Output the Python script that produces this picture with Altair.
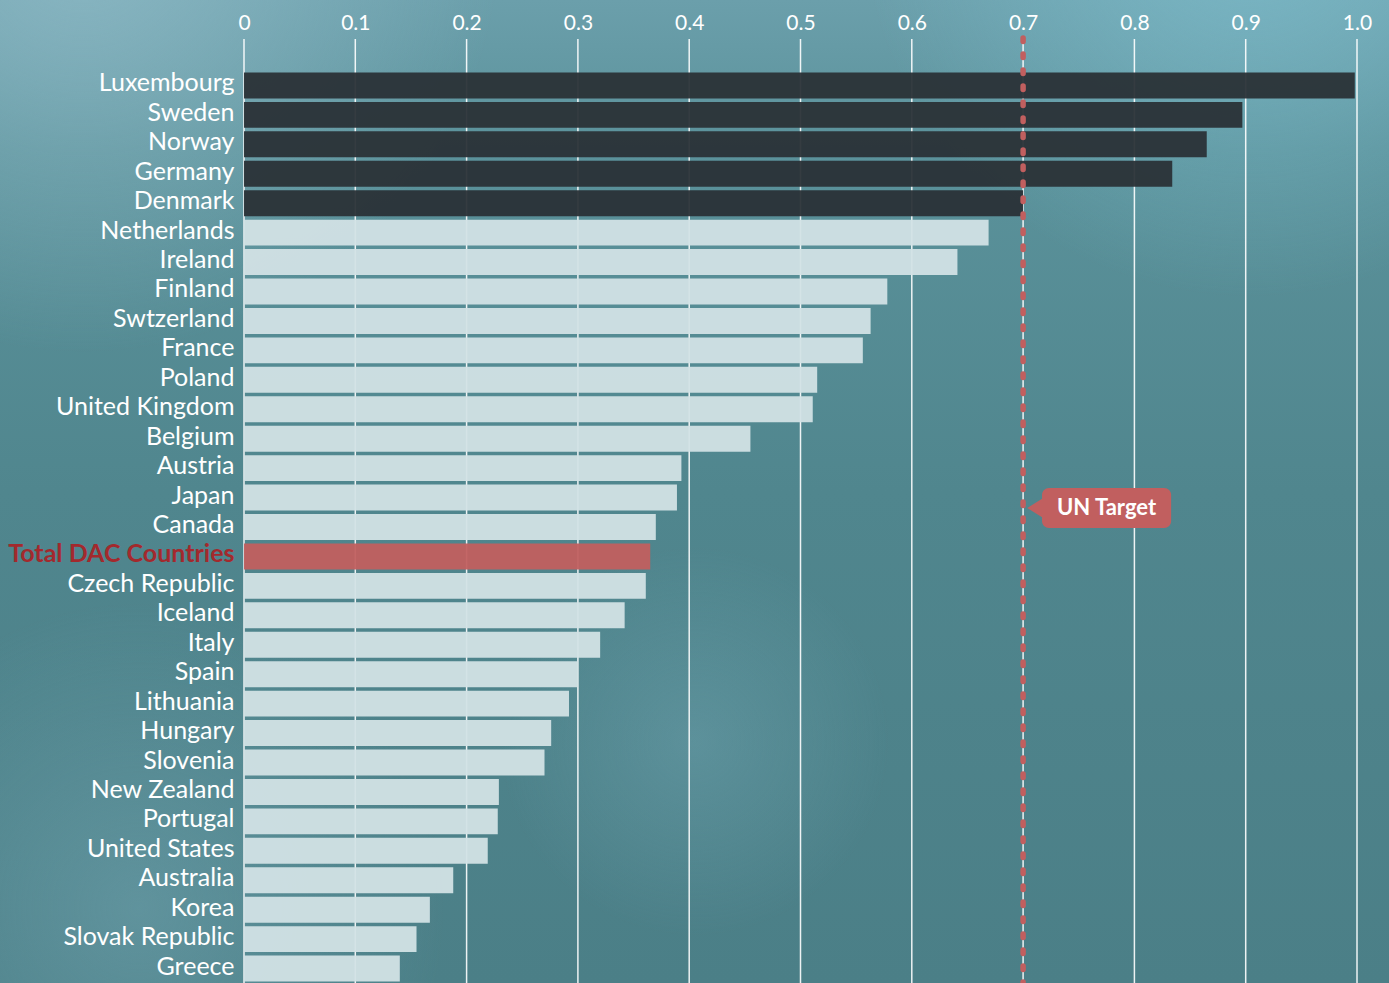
import altair as alt
import pandas as pd

# Net ODA as a share of GNI, by donor
countries = [
    "Luxembourg", "Sweden", "Norway", "Germany", "Denmark", "Netherlands",
    "Ireland", "Finland", "Swtzerland", "France", "Poland", "United Kingdom",
    "Belgium", "Austria", "Japan", "Canada", "Total DAC Countries",
    "Czech Republic", "Iceland", "Italy", "Spain", "Lithuania", "Hungary",
    "Slovenia", "New Zealand", "Portugal", "United States", "Australia",
    "Korea", "Slovak Republic", "Greece",
]
values = [
    0.998, 0.897, 0.865, 0.834, 0.70, 0.669,
    0.641, 0.578, 0.563, 0.556, 0.515, 0.511,
    0.455, 0.393, 0.389, 0.370, 0.365,
    0.361, 0.342, 0.320, 0.300, 0.292, 0.276,
    0.270, 0.229, 0.228, 0.219, 0.188,
    0.167, 0.155, 0.140,
]
un_target = 0.7
tick_values = [0, 0.1, 0.2, 0.3, 0.4, 0.5, 0.6, 0.7, 0.8, 0.9, 1.0]

TOTAL = "Total DAC Countries"
groups = [
    "total" if c == TOTAL else ("met" if v >= un_target else "below")
    for c, v in zip(countries, values)
]
df = pd.DataFrame({"country": countries, "oda": values, "group": groups})

W, H = 1113, 912
PAD = {"left": 244, "top": 71, "right": 32, "bottom": 0}
FONT = "Lato"
RED = "#c15f5f"
GRID_TOP = -32  # grid lines rise above the first bar, up to the tick labels

# soft, cloudy teal backdrop over the full canvas
bg_data = pd.DataFrame({"k": [0]})
canvas = dict(
    x=alt.value(-PAD["left"]), x2=alt.value(W + PAD["right"]),
    y=alt.value(-PAD["top"]), y2=alt.value(H + PAD["bottom"]),
)


def glow(cx, cy, r, rgb, alpha):
    return alt.Chart(bg_data).mark_rect(
        color=alt.RadialGradient(
            gradient="radial", x1=cx, y1=cy, r1=0, x2=cx, y2=cy, r2=r,
            stops=[
                alt.GradientStop(offset=0, color=f"rgba({rgb},{alpha})"),
                alt.GradientStop(offset=1, color=f"rgba({rgb},0)"),
            ],
        )
    ).encode(**canvas)


backdrop = alt.Chart(bg_data).mark_rect(
    color=alt.LinearGradient(
        gradient="linear", x1=0, y1=0, x2=0, y2=1,
        stops=[
            alt.GradientStop(offset=0, color="#6b9fab"),
            alt.GradientStop(offset=0.15, color="#5b929b"),
            alt.GradientStop(offset=0.5, color="#50868e"),
            alt.GradientStop(offset=1, color="#4b7f87"),
        ],
    )
).encode(**canvas)

glows = [
    glow(0.9, 0.08, 0.28, "128,192,207", 0.75),
    glow(0.06, 0.1, 0.3, "145,188,200", 0.8),
    glow(0.1, 0.8, 0.22, "120,170,182", 0.45),
    glow(0.5, 0.68, 0.14, "120,172,185", 0.35),
]

x_scale = alt.Scale(domain=[0, 1], nice=False)
y_scale = alt.Scale(domain=countries, paddingInner=0.12, paddingOuter=0.05)

grid_df = pd.DataFrame({"t": tick_values})
grid = alt.Chart(grid_df).mark_rule(color="white", strokeWidth=1.5, opacity=0.9).encode(
    x=alt.X("t:Q", scale=x_scale), y=alt.value(GRID_TOP), y2=alt.value(H)
)

bars = alt.Chart(df).mark_bar(opacity=0.95).encode(
    x=alt.X(
        "oda:Q", scale=x_scale,
        axis=alt.Axis(
            orient="top", title=None, values=tick_values,
            labelExpr="datum.value == 0 ? '0' : format(datum.value, '.1f')",
            labelFont=FONT, labelFontSize=21, labelColor="white",
            labelPadding=38, labelFlush=False, labelOverlap=False,
            domain=False, ticks=False, grid=False, zindex=1,
        ),
    ),
    y=alt.Y(
        "country:N", scale=y_scale, sort=countries,
        axis=alt.Axis(
            title=None, ticks=False, domain=False, grid=False,
            labelFont=FONT, labelFontSize=25, labelPadding=10, labelOffset=-2,
            labelColor={"expr": f"datum.value == '{TOTAL}' ? '#a3292d' : 'white'"},
            labelFontWeight={"expr": f"datum.value == '{TOTAL}' ? 'bold' : 'normal'"},
            labelLimit=400, zindex=1,
        ),
    ),
    color=alt.Color(
        "group:N",
        scale=alt.Scale(domain=["met", "below", "total"],
                        range=["#2a3237", "#d2e1e5", RED]),
        legend=None,
    ),
)

target_df = pd.DataFrame({"x": [un_target]})
target_rule = alt.Chart(target_df).mark_rule(
    color=RED, strokeWidth=5.5, strokeDash=[3.5, 12.5], strokeCap="round"
).encode(x=alt.X("x:Q", scale=x_scale), y=alt.value(GRID_TOP - 1), y2=alt.value(H + 10))

# "UN Target" callout
callout_y = 437
box_df = pd.DataFrame({"x1": [0.717], "x2": [0.833], "xc": [0.775],
                       "xp": [0.7127], "label": ["UN Target"]})
box = alt.Chart(box_df).mark_rect(color=RED, cornerRadius=7).encode(
    x=alt.X("x1:Q", scale=x_scale), x2="x2:Q",
    y=alt.value(callout_y - 20), y2=alt.value(callout_y + 20),
)
pointer = alt.Chart(box_df).mark_point(
    shape="M 0.6 -1 L -1 0 L 0.6 1 Z", filled=True, opacity=1, color=RED, size=400
).encode(x=alt.X("xp:Q", scale=x_scale), y=alt.value(callout_y))
box_text = alt.Chart(box_df).mark_text(
    font=FONT, fontSize=22, fontWeight="bold", color="white",
    align="center", baseline="middle",
).encode(x=alt.X("xc:Q", scale=x_scale), y=alt.value(callout_y), text="label:N")

chart = alt.layer(
    backdrop, *glows, grid, bars, target_rule, box, pointer, box_text
).properties(
    width=W, height=H,
    autosize=alt.AutoSizeParams(type="none"),
    padding=PAD,
    background="#4d8189",
).configure_view(stroke=None)

chart.save("out.html", embed_options={"renderer": "svg", "actions": False})
